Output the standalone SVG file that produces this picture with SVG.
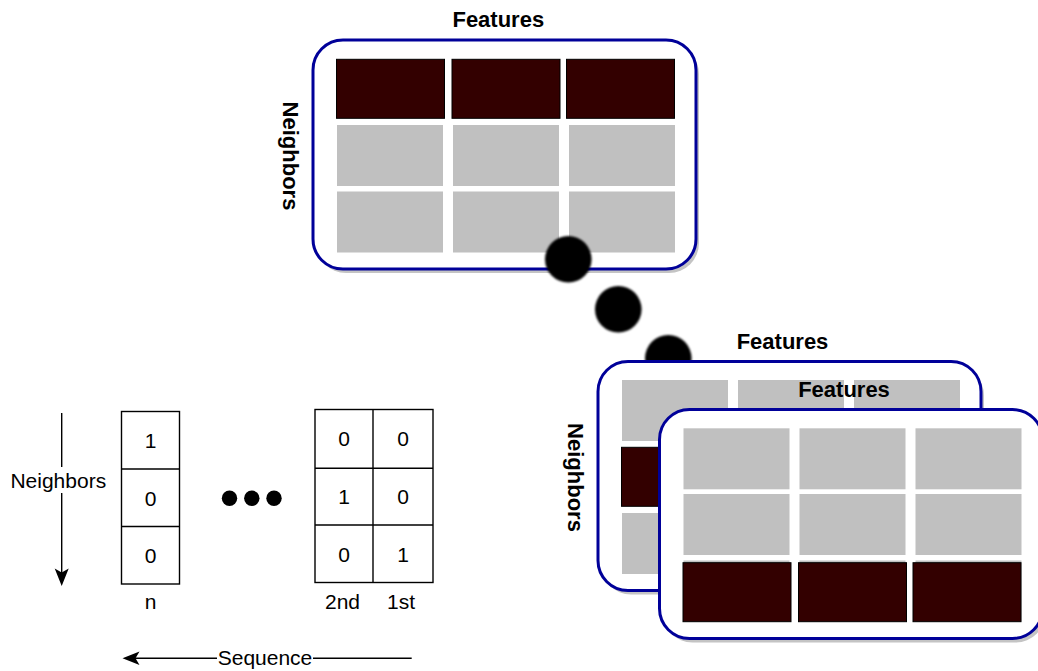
<svg xmlns="http://www.w3.org/2000/svg" width="1038" height="671" viewBox="0 0 1038 671">
  <style>
    .frame { fill: #ffffff; stroke: #000099; stroke-width: 3; }
    .shadow { fill: #c4c4c4; }
    .cell { fill: #c0c0c0; }
    .hot { fill: #330000; stroke: #000000; stroke-width: 1; }
    .title { font-family: "Liberation Sans", Arial, sans-serif; font-size: 22px; font-weight: bold; fill: #000000; text-anchor: middle; }
    .lbl { font-family: "Liberation Sans", Arial, sans-serif; font-size: 21px; fill: #000000; text-anchor: middle; }
    .box { fill: #ffffff; stroke: #000000; stroke-width: 1.4; }
    .grid { stroke: #000000; stroke-width: 1.4; fill: none; }
    .edge { stroke: #000000; stroke-width: 1.4; fill: none; }
    .dot { fill: #000000; }
  </style>
  <defs>
    <filter id="soft" x="-20%" y="-20%" width="140%" height="140%">
      <feGaussianBlur stdDeviation="0.8"/>
    </filter>
    <!-- rounded panel frame with its drop shadow -->
    <g id="frame">
      <rect class="shadow" x="3" y="4" width="383" height="229" rx="30" ry="30"/>
      <rect class="frame" x="0" y="0" width="383" height="229" rx="30" ry="30"/>
    </g>
    <!-- one row of grey feature cells -->
    <g id="greyRow">
      <rect class="cell" x="24" y="0" width="106" height="61"/>
      <rect class="cell" x="140" y="0" width="106" height="61"/>
      <rect class="cell" x="256" y="0" width="106" height="61"/>
    </g>
    <!-- one row of highlighted cells -->
    <g id="hotRow">
      <rect class="hot" x="23.5" y="0" width="108" height="59"/>
      <rect class="hot" x="139" y="0" width="108" height="59"/>
      <rect class="hot" x="253.5" y="0" width="108" height="59"/>
    </g>
  </defs>

  <!-- first neighbour/feature matrix -->
  <g id="matrix-1" transform="translate(313,40)">
    <use href="#frame"/>
    <use href="#hotRow" y="19.3"/>
    <use href="#greyRow" y="85"/>
    <use href="#greyRow" y="151.5"/>
    <text class="title" x="185.3" y="-12.7">Features</text>
    <text class="title" transform="translate(-30,116) rotate(90)" x="0" y="0">Neighbors</text>
  </g>

  <!-- diagonal continuation dots -->
  <g id="continuation" filter="url(#soft)">
    <circle class="dot" cx="568.3" cy="259.3" r="23.3"/>
    <circle class="dot" cx="618.3" cy="309.3" r="23.3"/>
    <circle class="dot" cx="668.3" cy="358.3" r="23.3"/>
  </g>

  <!-- second matrix -->
  <g id="matrix-2" transform="translate(598,361.5)">
    <text class="title" x="184.5" y="-12.5">Features</text>
    <use href="#frame"/>
    <use href="#greyRow" y="18.5"/>
    <use href="#hotRow" y="85.8"/>
    <use href="#greyRow" y="151.5"/>
    <text class="title" transform="translate(-30,116) rotate(90)" x="0" y="0">Neighbors</text>
  </g>

  <!-- third matrix -->
  <g id="matrix-3" transform="translate(659.5,409.5)">
    <text class="title" x="184.5" y="-12.5">Features</text>
    <use href="#frame"/>
    <use href="#greyRow" y="18.8"/>
    <use href="#greyRow" y="84.5"/>
    <use href="#greyRow" y="151"/>
    <use href="#hotRow" y="153.2"/>
  </g>

  <!-- one-hot column for the n-th step -->
  <g id="step-n">
    <rect class="box" x="121.5" y="411.5" width="58" height="172.5"/>
    <line class="grid" x1="121.5" y1="469" x2="179.5" y2="469"/>
    <line class="grid" x1="121.5" y1="526.5" x2="179.5" y2="526.5"/>
    <text class="lbl" x="150.5" y="447.5">1</text>
    <text class="lbl" x="150.5" y="505.5">0</text>
    <text class="lbl" x="150.5" y="562.5">0</text>
    <text class="lbl" x="150.5" y="608.5">n</text>
  </g>

  <!-- ellipsis between steps -->
  <g id="steps-ellipsis">
    <circle class="dot" cx="229.5" cy="498.3" r="7.7"/>
    <circle class="dot" cx="251.8" cy="498.3" r="7.7"/>
    <circle class="dot" cx="274" cy="498.3" r="7.7"/>
  </g>

  <!-- one-hot columns for the 2nd and 1st steps -->
  <g id="steps-2-1">
    <rect class="box" x="315" y="409.5" width="118" height="173"/>
    <line class="grid" x1="373" y1="409.5" x2="373" y2="582.5"/>
    <line class="grid" x1="315" y1="468.3" x2="433" y2="468.3"/>
    <line class="grid" x1="315" y1="525" x2="433" y2="525"/>
    <text class="lbl" x="344" y="445.5">0</text>
    <text class="lbl" x="403" y="445.5">0</text>
    <text class="lbl" x="344" y="503.5">1</text>
    <text class="lbl" x="403" y="503.5">0</text>
    <text class="lbl" x="344" y="561.5">0</text>
    <text class="lbl" x="403" y="561.5">1</text>
    <text class="lbl" x="342.5" y="608.5">2nd</text>
    <text class="lbl" x="401" y="608.5">1st</text>
  </g>

  <!-- axis arrows -->
  <g id="connectors">
    <line class="edge" x1="61.7" y1="413" x2="61.7" y2="467"/>
    <line class="edge" x1="61.7" y1="493" x2="61.7" y2="574"/>
    <path d="M61.7,586 L54.7,568.5 L61.7,572.5 L68.7,568.5 Z" fill="#000"/>
    <text class="lbl" x="58.3" y="487.5">Neighbors</text>

    <line class="edge" x1="411.7" y1="658.3" x2="313" y2="658.3"/>
    <line class="edge" x1="217" y1="658.3" x2="132" y2="658.3"/>
    <path d="M122.5,658.3 L139.5,651.5 L135.5,658.3 L139.5,665.1 Z" fill="#000"/>
    <text class="lbl" x="265" y="664.8">Sequence</text>
  </g>
</svg>
